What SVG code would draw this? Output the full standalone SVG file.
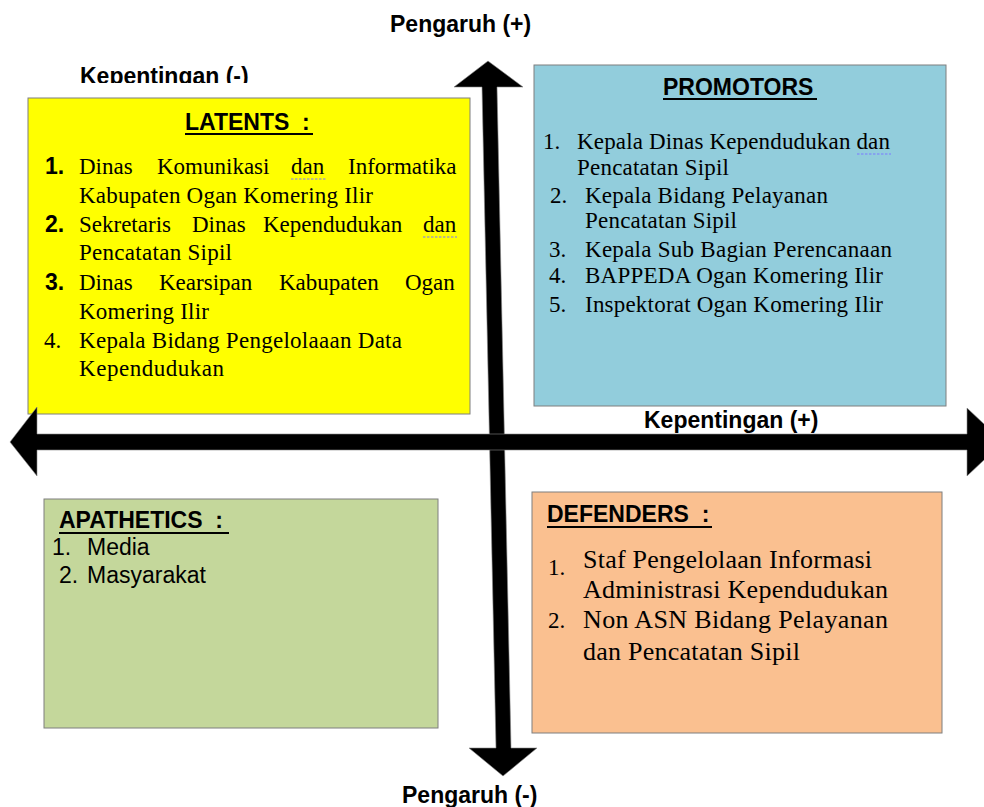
<svg xmlns="http://www.w3.org/2000/svg" width="984" height="807" viewBox="0 0 984 807">
<style>
.ax{font-family:"Liberation Sans",Arial,sans-serif;font-weight:bold;font-size:23px;fill:#000}
.tt{font-family:"Liberation Sans",Arial,sans-serif;font-weight:bold;font-size:23px;fill:#000;white-space:pre}
.ar{font-family:"Liberation Sans",Arial,sans-serif;font-size:23px;fill:#000}
.tm{font-family:"Liberation Serif","Times New Roman",serif;font-size:23px;fill:#000}
.tmd{font-family:"Liberation Serif","Times New Roman",serif;font-size:26px;fill:#000}
.box{stroke:#7f7f7f;stroke-width:1}
.ul{stroke:#000;stroke-width:2}
.sq{stroke:#7b7bff;stroke-width:1.2;stroke-dasharray:2.5,1.5}
</style>
<defs>
<clipPath id="clipK"><rect x="0" y="55" width="300" height="28"/></clipPath>
</defs>
<rect width="984" height="807" fill="#fff"/>

<g id="latents">
<rect class="box" x="28" y="98" width="442" height="316" fill="#ffff00"/>
<text class="tt" x="185" y="130">LATENTS  :</text>
<line class="ul" x1="185" y1="134" x2="313" y2="134"/>
<text class="ar" x="45" y="174" font-weight="bold">1.</text>
<text class="tm" y="174"><tspan x="79">Dinas</tspan><tspan x="157">Komunikasi</tspan><tspan x="291">dan</tspan><tspan x="348">Informatika</tspan></text>
<line class="sq" x1="291" y1="179" x2="326" y2="179"/>
<text class="tm" x="79" y="203" textLength="294" lengthAdjust="spacing">Kabupaten Ogan Komering Ilir</text>
<text class="ar" x="45" y="232" font-weight="bold">2.</text>
<text class="tm" y="232"><tspan x="79">Sekretaris</tspan><tspan x="192">Dinas</tspan><tspan x="263">Kependudukan</tspan><tspan x="423">dan</tspan></text>
<line class="sq" x1="423" y1="237" x2="457" y2="237"/>
<text class="tm" x="79" y="260" textLength="153" lengthAdjust="spacing">Pencatatan Sipil</text>
<text class="ar" x="45" y="290" font-weight="bold">3.</text>
<text class="tm" y="290"><tspan x="79">Dinas</tspan><tspan x="159">Kearsipan</tspan><tspan x="279">Kabupaten</tspan><tspan x="405">Ogan</tspan></text>
<text class="tm" x="79" y="319" textLength="130" lengthAdjust="spacing">Komering Ilir</text>
<text class="tm" x="44" y="348">4.</text>
<text class="tm" x="79" y="348" textLength="323" lengthAdjust="spacing">Kepala Bidang Pengelolaaan Data</text>
<text class="tm" x="79" y="376" textLength="145" lengthAdjust="spacing">Kependudukan</text>
</g>

<g id="promotors">
<rect class="box" x="534" y="65" width="412" height="341" fill="#92cddc"/>
<text class="tt" x="663" y="95">PROMOTORS</text>
<line class="ul" x1="663" y1="99" x2="817" y2="99"/>
<text class="tm" x="543" y="149">1.</text>
<text class="tm" x="577" y="149" textLength="313" lengthAdjust="spacing">Kepala Dinas Kependudukan dan</text>
<line class="sq" x1="857" y1="154" x2="891" y2="154"/>
<text class="tm" x="577" y="175" textLength="152" lengthAdjust="spacing">Pencatatan Sipil</text>
<text class="tm" x="550" y="203">2.</text>
<text class="tm" x="585" y="203" textLength="243" lengthAdjust="spacing">Kepala Bidang Pelayanan</text>
<text class="tm" x="585" y="228" textLength="152" lengthAdjust="spacing">Pencatatan Sipil</text>
<text class="tm" x="549" y="257">3.</text>
<text class="tm" x="585" y="257" textLength="307" lengthAdjust="spacing">Kepala Sub Bagian Perencanaan</text>
<text class="tm" x="549" y="283">4.</text>
<text class="tm" x="585" y="283" textLength="298" lengthAdjust="spacing">BAPPEDA Ogan Komering Ilir</text>
<text class="tm" x="549" y="312">5.</text>
<text class="tm" x="585" y="312" textLength="298" lengthAdjust="spacing">Inspektorat Ogan Komering Ilir</text>
</g>

<g id="apathetics">
<rect class="box" x="44" y="499" width="394" height="229" fill="#c4d79b"/>
<text class="tt" x="59" y="528">APATHETICS  :</text>
<line class="ul" x1="59" y1="533" x2="229" y2="533"/>
<text class="ar" x="52" y="555">1.</text>
<text class="ar" x="87" y="555">Media</text>
<text class="ar" x="59" y="583">2.</text>
<text class="ar" x="87" y="583">Masyarakat</text>
</g>

<g id="defenders">
<rect class="box" x="532" y="492" width="410" height="241" fill="#fac090"/>
<text class="tt" x="547" y="522">DEFENDERS  :</text>
<line class="ul" x1="547" y1="527" x2="712" y2="527"/>
<text class="tm" x="548" y="575" font-size="21">1.</text>
<text class="tmd" x="583" y="568" textLength="289" lengthAdjust="spacing">Staf Pengelolaan Informasi</text>
<text class="tmd" x="583" y="598" textLength="305" lengthAdjust="spacing">Administrasi Kependudukan</text>
<text class="tm" x="548" y="628" font-size="22">2.</text>
<text class="tmd" x="583" y="628" textLength="305" lengthAdjust="spacing">Non ASN Bidang Pelayanan</text>
<text class="tmd" x="583" y="660" textLength="217" lengthAdjust="spacing">dan Pencatatan Sipil</text>
</g>

<g id="connectors">
<polygon points="488,61 523,87 497,87 511,748 537,748 503,776 469,748 496,748 482,87 454,87" fill="#000" stroke="#888" stroke-width="0.6"/>
<polygon points="10,442 37,407 37,434 967,434 967,408 1003,442 967,476 967,450 37,450 37,476" fill="#000" stroke="#888" stroke-width="0.6"/>
</g>

<g id="axis-labels">
<text class="ax" x="390" y="32">Pengaruh (+)</text>
<text class="ax" x="80" y="84" clip-path="url(#clipK)">Kepentingan (-)</text>
<text class="ax" x="644" y="428">Kepentingan (+)</text>
<text class="ax" x="402" y="803">Pengaruh (-)</text>
</g>
</svg>
